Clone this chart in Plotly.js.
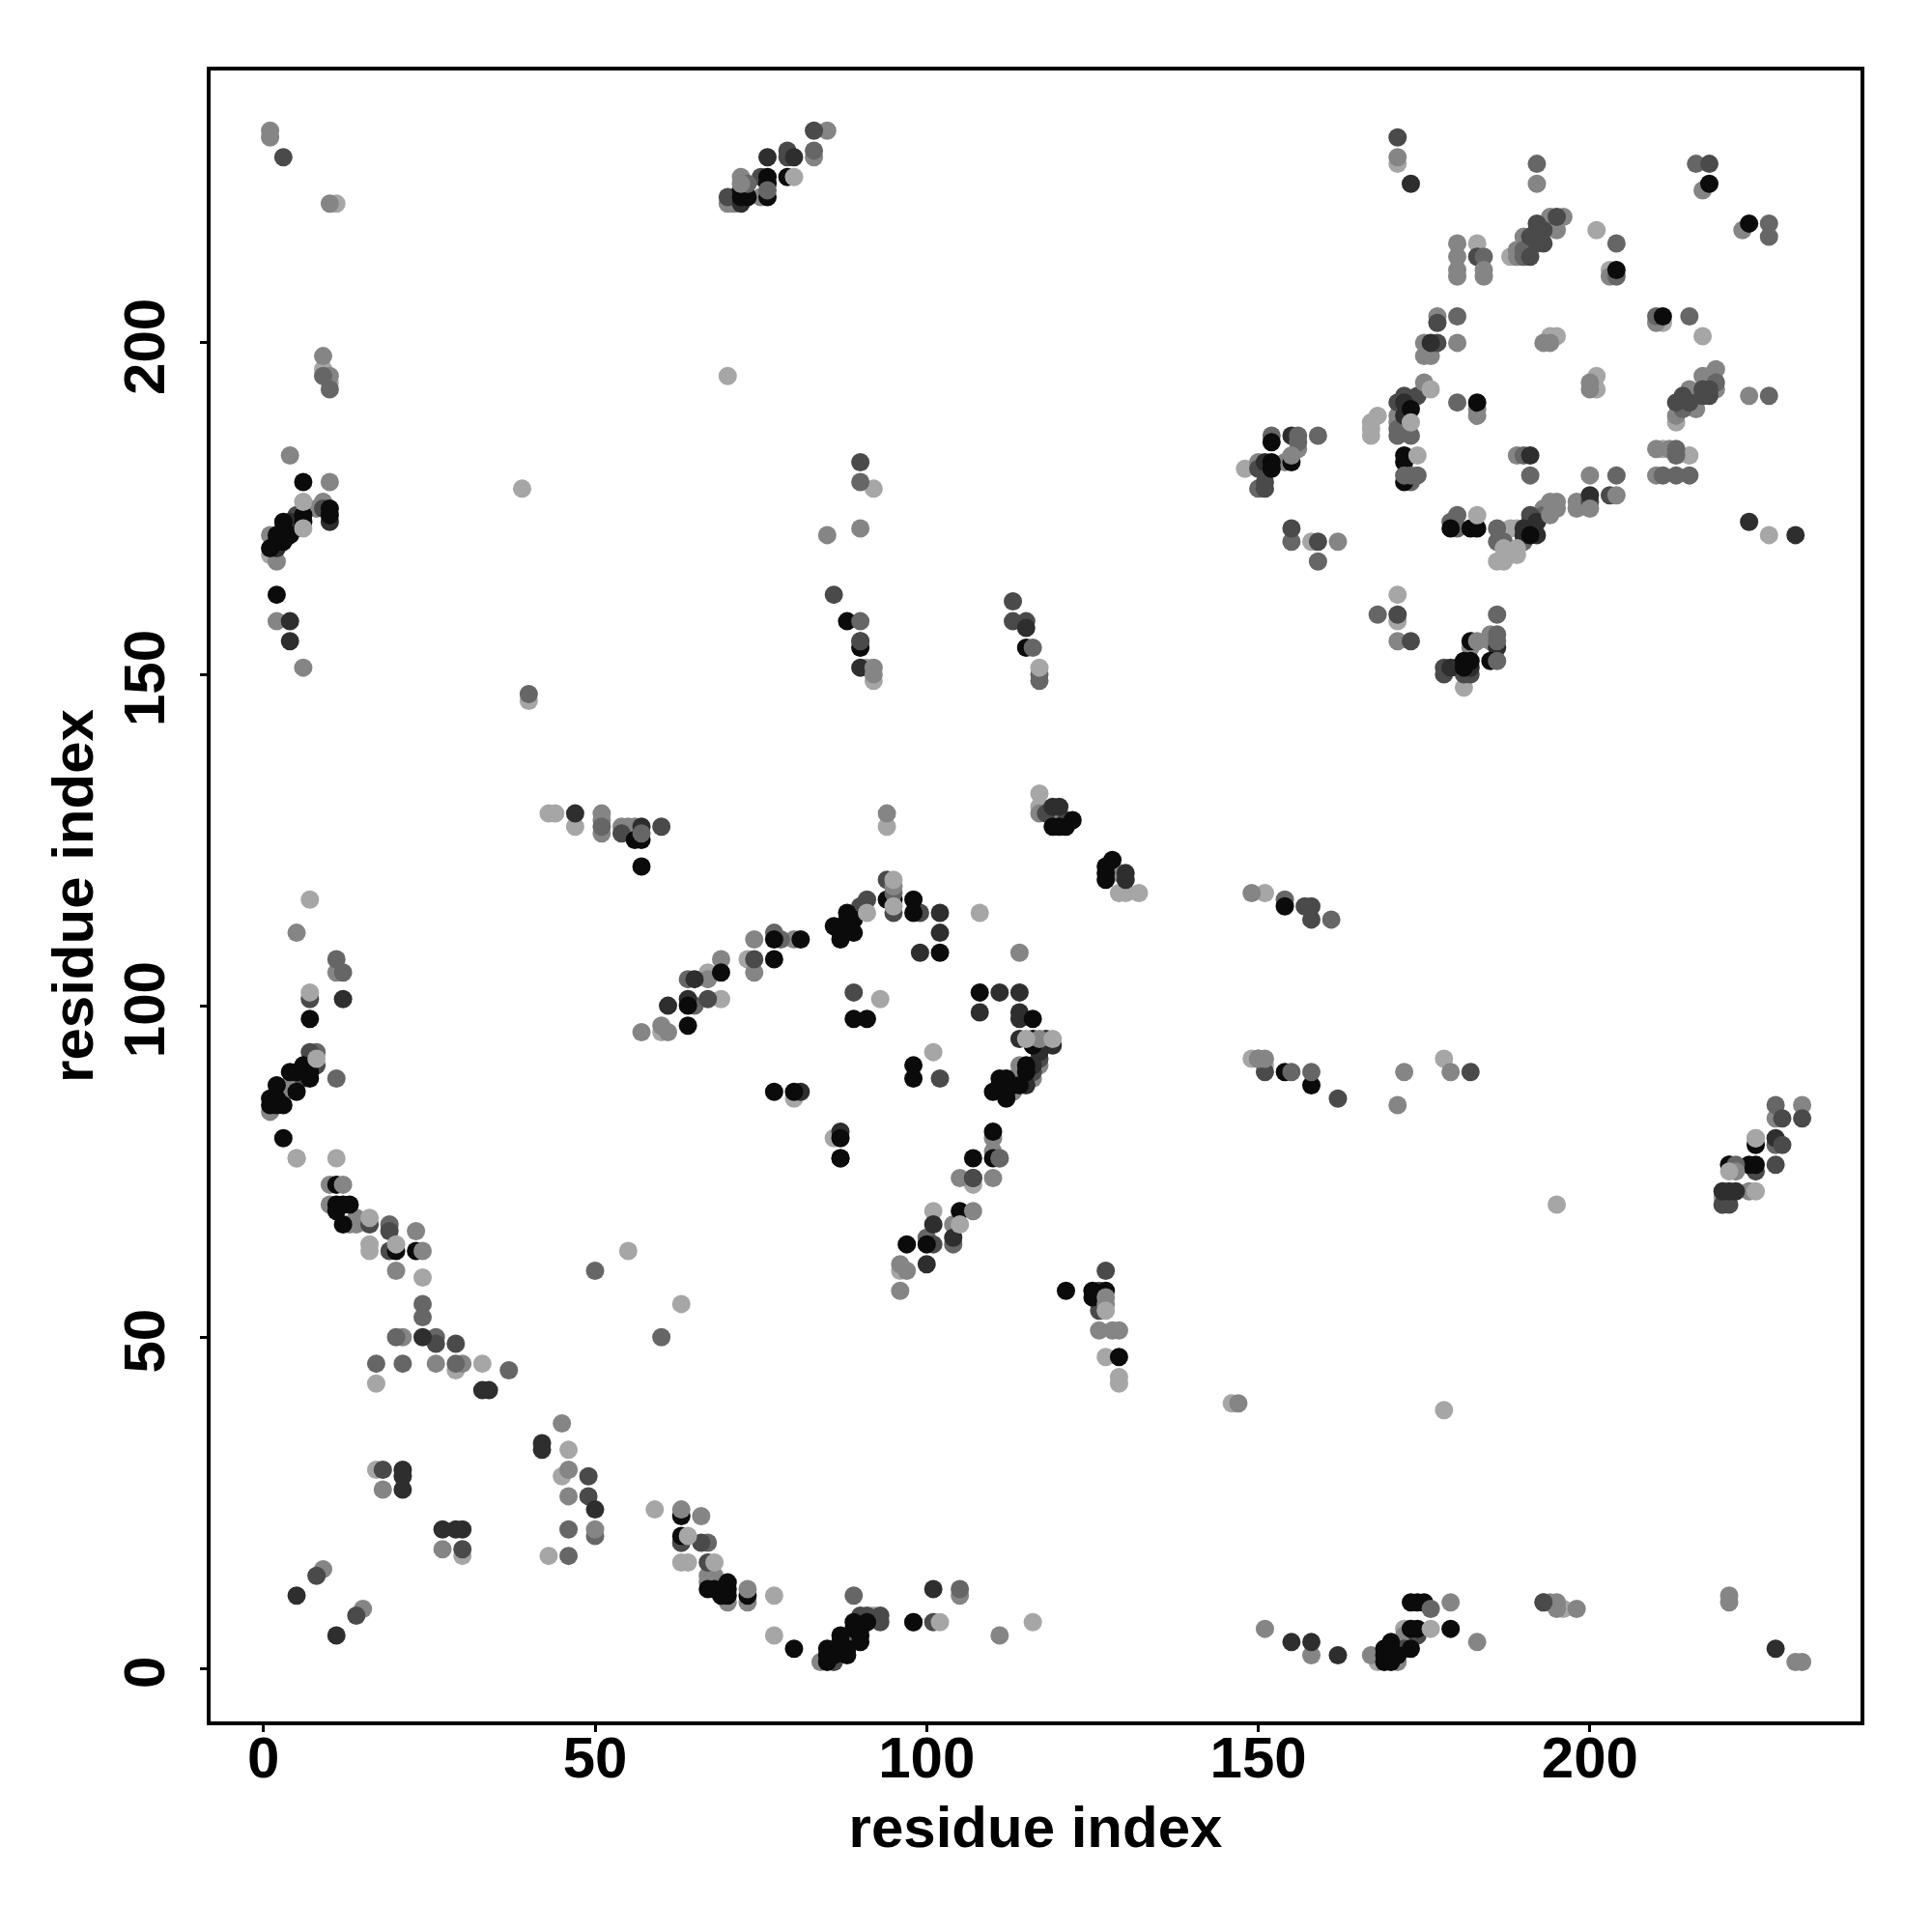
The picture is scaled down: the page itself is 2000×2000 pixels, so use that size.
<!DOCTYPE html>
<html><head><meta charset="utf-8">
<script src="https://cdn.plot.ly/plotly-3.0.1.min.js"></script>
<style>html,body{margin:0;padding:0;background:#fff}</style></head>
<body><div id="chart" style="width:2000px;height:2000px"></div>
<script>
// contacts as [residue i, residue j], grouped by grey shade
const shadeLight = [[5,77],[11,77],[16,64],[16,63],[24,59],[17,43],[29,45],[33,46],[17,30],[45,29],[59,24],[30,17],[43,17],[63,16],[64,16],[77,11],[77,5],[55,63],[63,55],
[101,69],[107,73],[96,60],[129,44],[129,43],[146,40],[92,8],[116,7],[195,70],[178,39],[172,6],[168,1],[196,9],
[7,116],[5,77],[43,129],[44,129],[47,127],[60,96],[94,127],[117,132],[117,130],[129,117],[130,117],[132,117],[73,107],[67,105],[69,101],[93,101],[101,93],[80,86],[86,80],[108,114],
[11,221],[9,196],[10,194],[1,168],[39,178],[40,146],[70,195],[92,178],[91,151],[92,149],
[171,227],[201,217],[203,211],[183,215],[176,199],[194,201],[195,201],[211,203],[217,201],[201,195],[201,193],[151,117],[151,91],[149,92],[178,92],[220,71],[220,70],
[188,213],[213,188],[168,189],[167,188],[167,187],[167,186],[148,181],[158,170],[199,176],[211,184],[215,183],[227,171],[188,172],[189,172],[186,167],[187,167],[171,162],[171,158],[181,148],[127,47]];
const shadeMid = [[10,73],[10,70],[14,68],[14,67],[13,67],[23,66],[20,60],[21,50],[26,46],[30,46],[45,37],[46,26],[18,27],[66,23],[27,18],[9,15],[15,9],[67,14],[68,14],[67,13],[70,10],[73,10],
[105,74],[110,74],[104,67],[96,61],[97,60],[96,57],[126,56],[126,51],[128,51],[129,51],[147,40],[105,11],[111,5],[88,4],[86,3],[84,1],[158,2],[151,6],
[5,111],[11,105],[1,84],[4,88],[3,87],[51,129],[51,128],[51,126],[54,127],[55,127],[56,127],[57,96],[60,97],[61,96],[94,129],[117,129],[119,129],[129,120],[74,110],[80,110],[69,107],[74,105],[67,104],[114,108],[117,91],[114,91],[114,90],[116,89],[113,87],[110,80],[110,78],
[1,232],[1,231],[10,221],[9,198],[10,195],[4,183],[10,179],[9,176],[8,175],[1,171],[2,167],[2,158],[6,151],[85,232],[83,228],[72,225],[71,222],[75,222],[70,221],[71,221],[90,172],[85,171],
[192,224],[217,223],[223,217],[196,219],[194,219],[195,217],[190,216],[189,214],[189,213],[180,215],[180,213],[180,211],[180,210],[184,210],[177,204],[175,200],[180,200],[175,198],[176,198],[193,200],[194,200],[210,203],[200,194],[200,193],[219,196],[217,195],[218,195],[224,192],[203,210],[183,190],[183,189],
[149,117],[172,90],[179,90],[171,85],[232,85],[228,83],[224,72],
[213,189],[216,192],[216,190],[215,193],[219,193],[171,189],[171,188],[150,182],[154,182],[156,184],[162,170],[189,183],[200,180],[198,176],[198,175],[210,184],[212,184],[210,180],[193,175],[171,155],[185,156],[185,155],[182,154],
[193,10],[194,10],[195,10],[195,9],[198,9],[221,11],[221,10],[173,6],[172,5],[179,10],[183,4],[167,2],[171,1],[231,1],[232,1]];
const shadeDim = [[19,67],[24,55],[24,53],[20,50],[26,50],[17,46],[21,46],[29,46],[37,45],[46,21],[50,20],[67,19],[46,17],[63,19],[50,60],[60,50],
[100,65],[104,64],[105,12],[89,11],[89,5],
[11,107],[12,105],[8,93],[11,89],[51,127],[65,100],[64,104],[77,111],[78,110],[40,147],[9,195],[10,193],[83,229],[90,179],[117,150],[117,149],
[192,227],[216,227],[227,218],[227,216],[204,215],[204,210],[180,204],[215,204],[210,204],[190,214],[190,213],[219,194],[227,192],[180,191],
[214,190],[171,186],[173,186],[171,187],[152,186],[159,186],[150,178],[155,170],[159,167],[173,179],[190,183],[191,180],[204,180],[213,184],[213,183],[211,180],[213,180],[215,180],[179,173],[180,174],[180,172],[186,172],[186,170],[187,170],[190,170],[193,174],[168,159],[186,159],
[154,116],[161,113],[228,85],[228,79],[98,7]];
const shadeDark = [[16,67],[19,66],[19,63],[26,49],[29,49],[18,30],[49,29],[49,26],[63,19],[66,19],[30,18],[67,16],[8,14],[14,8],
[107,74],[101,64],[127,60],[126,57],[126,55],[126,54],[93,8],[90,8],[93,7],[90,7],[101,7],[86,1],[174,5],
[7,101],[7,93],[8,91],[6,89],[60,127],[54,126],[94,119],[95,114],[91,116],[90,115],[102,89],[89,102],[67,101],[74,107],[99,114],[118,129],[121,128],[107,74],[117,92],[116,90],
[3,228],[5,174],[9,175],[5,172],[83,232],[79,229],[79,228],[75,225],[70,222],[90,182],[86,162],[90,155],[113,161],[113,158],[115,158],
[171,231],[218,227],[177,203],[177,200],[193,217],[192,218],[192,217],[191,216],[193,215],[192,215],[191,213],[183,213],[195,219],[218,192],[218,193],[217,192],[217,193],[213,191],[215,191],[214,192],[171,191],[172,192],[174,192],
[151,181],[150,181],[151,179],[151,178],[155,172],[159,170],[191,173],[191,174],[200,176],[171,159],[173,155],[178,151],[178,150],[181,150],[182,150],[180,151],
[158,115],[157,115],[158,113],[151,90],[162,86],[182,90],[232,83],[225,75],[228,76],[220,70],[221,70],[193,10],[172,3],[91,8]];
const shadeNear = [[24,50],[21,30],[21,29],[21,27],[42,34],[42,33],[50,24],[27,21],[30,21],[33,42],[34,42],[5,11],[11,5],[29,21],
[101,12],[100,61],[104,65],[101,67],[162,2],[155,4],[158,4],[228,3],
[12,101],[47,129],[57,127],[61,100],[65,104],[64,101],[2,169],[4,173],[10,173],[4,158],[4,155],[76,228],[80,228],[72,221],[90,151],[115,157],
[173,224],[176,200],[172,191],[172,189],[155,186],[191,183],[200,177],[151,182],[179,151],[182,151],[190,172],[190,171],[192,171],[192,173],[186,154],[224,173],[231,171],[228,80],[220,72],[221,72],[222,72],[221,76],
[102,114],[102,111],[99,108],[111,102],[114,102],[108,99],[114,99],[114,98],[114,95],[118,95],[119,94],[117,93],[116,91],[115,88],[113,88],[119,130],[120,130],[130,120],[130,119],[81,87],[87,81]];
const shadeBlack = [[11,73],[11,70],[12,70],[13,70],[11,69],[12,67],[20,63],[23,63],[63,23],[63,20],[67,12],[68,12],[70,13],[70,12],[70,11],[69,11],[73,11],[80,3],[87,77],
[107,77],[110,77],[105,69],[97,64],[100,64],[121,57],[125,57],[127,57],[125,56],[129,47],[89,7],[91,7],[89,6],[90,6],[87,5],[90,5],[87,4],[90,4],[85,3],[88,3],[85,2],[86,2],[88,2],[85,1],[98,7],
[7,98],[6,91],[7,90],[4,90],[5,90],[7,89],[2,88],[5,87],[1,86],[2,86],[1,85],[2,85],[3,85],[3,80],[57,125],[56,125],[57,121],[64,100],[64,97],[77,110],[77,107],[81,110],[69,105],
[122,128],[119,127],[120,127],[121,127],[128,122],[127,121],[127,120],[127,119],[95,116],[94,116],[88,114],[88,113],[89,113],[88,112],[86,112],[89,111],[87,111],[87,110],[98,116],[98,114],[102,108],[91,98],[89,98],[98,91],[98,89],[77,87],[80,87],[87,80],[87,77],[108,102],[116,98],[116,95],[116,94],[115,91],[115,90],[111,89],[112,89],[112,88],[111,88],[114,88],[110,87],[112,87],[112,86],[110,81],
[6,179],[10,175],[10,174],[6,174],[6,173],[3,173],[3,172],[4,171],[3,171],[2,171],[2,170],[3,170],[1,169],[2,162],[76,225],[79,225],[76,224],[72,223],[72,222],[73,222],[76,222],[88,158],[90,154],[115,154],
[218,224],[224,218],[173,190],[152,185],[152,182],[152,181],[155,182],[172,183],[172,182],[172,179],[179,172],[182,172],[183,172],[191,171],[182,155],[185,152],[181,152],[182,152],[181,151],
[154,115],[154,90],[158,88],[225,79],[221,76],[224,76],[225,76],[174,10],[175,10],[173,10],[173,6],[174,6],[179,6],[169,3],[170,3],[173,3],[169,2],[170,2],[171,2],[169,1],[170,1],[170,4]];
// points that lie above the darker ones around them
const topDark = [[229,79],[203,177],[90,155],[229,83]];
const topDim = [[57,126],[111,77],[95,117],[156,186],[156,185],[172,180],[174,180],[173,180],[184,213],[186,156],[186,155],[186,152],[155,90],[158,90],[222,76],[176,9],[90,158],[116,154],[73,224],[76,223],[111,77],[150,92]];
const topBlack = [[204,211],[211,204],[183,191]];
const topMid = [[12,73],[24,63],[46,30],[50,21],[63,24],[73,12],[107,69],[127,56],[127,55],[95,118],[117,95],[72,224],[92,151],[92,150],[155,183],[175,194],[194,176],[195,176],[195,175],[194,174],[200,175],[204,177],[183,155],[222,75],[151,92],[150,92],[171,228],[184,211]];
const topLight = [[16,68],[20,64],[64,20],[68,16],[46,33],[105,67],[127,54],[102,7],[8,92],[7,102],[95,119],[95,115],[91,114],[119,95],[115,95],[80,225],[117,151],[6,176],[6,172],[174,183],[173,188],[176,193],[187,169],[188,168],[189,168],[189,169],[183,174],[221,75],[225,72],[225,80],[176,6],[225,80]];

const layers = [
  [shadeLight, '#a6a6a6'], [shadeMid, '#858585'], [shadeDim, '#666666'],
  [shadeDark, '#4a4a4a'], [shadeNear, '#2e2e2e'], [shadeBlack, '#0b0b0b'],
  [topBlack, '#0b0b0b'], [topDark, '#4a4a4a'], [topDim, '#666666'], [topMid, '#858585'], [topLight, '#a6a6a6']
];
const traces = layers.map(([pts, col]) => ({
  type: 'scatter', mode: 'markers',
  x: pts.map(p => p[0]), y: pts.map(p => p[1]),
  marker: {size: 19, color: col, line: {width: 0}},
  hoverinfo: 'skip', showlegend: false
}));
const font = {family: '"Liberation Sans", Arial, sans-serif', size: 60, color: '#000', weight: 700};
const axisBase = {
  showgrid: false, zeroline: false, showline: true, mirror: true,
  linecolor: '#000', linewidth: 4, ticks: 'outside', ticklen: 7, tickwidth: 3,
  tickcolor: '#000', tickmode: 'array', tickvals: [0, 50, 100, 150, 200],
  ticktext: ['0', '50', '100', '150', '200'], tickfont: font
};
Plotly.newPlot('chart', traces, {
  width: 2000, height: 2000, paper_bgcolor: '#fff', plot_bgcolor: '#fff',
  margin: {l: 218, r: 74, t: 73, b: 218, pad: 0},
  xaxis: Object.assign({}, axisBase, {range: [-7.97, 240.8], automargin: false, ticklabelstandoff: -25,
    title: {text: 'residue index', font: font, standoff: 19}}),
  yaxis: Object.assign({}, axisBase, {range: [-7.97, 241.08], tickangle: -90, automargin: false, ticklabelstandoff: 13, ticklabelshift: 13,
    title: {text: 'residue index', font: font, standoff: 1}})
}, {displayModeBar: false, staticPlot: true});
</script></body></html>
